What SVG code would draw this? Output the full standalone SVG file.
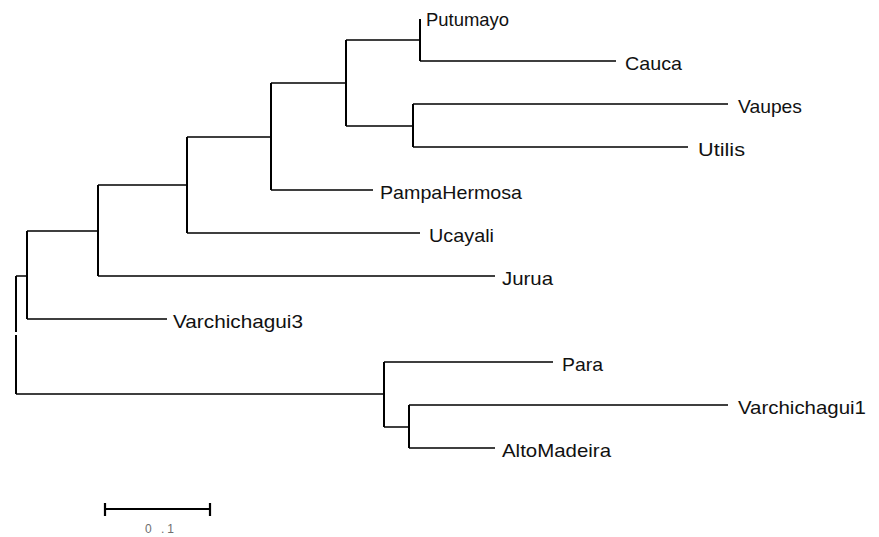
<svg xmlns="http://www.w3.org/2000/svg" width="879" height="537" viewBox="0 0 879 537">
<style>
.bg{fill:#ffffff}
.h{fill:none;stroke:#000;stroke-width:1.5;stroke-linecap:butt}
.v{fill:none;stroke:#000;stroke-width:2;stroke-linecap:butt}
.lbl{font-family:"Liberation Sans",Arial,sans-serif;font-size:19px;fill:#111}
.sb{fill:none;stroke:#000;stroke-width:2.2}
.sbt{font-family:"Liberation Sans",Arial,sans-serif;font-size:12px;fill:#6e6e6e}
</style>
<rect class="bg" x="0" y="0" width="879" height="537"/>
<g id="connectors">
  <path class="v" d="M16,276 V332 M16,335 V394 M27,231 V319 M98,185 V276 M187,137 V233 M271,83 V190 M346,40 V126 M420,19 V61 M413,104 V147 M384,362 V427 M409,405 V448"/>
  <path class="h" d="M16,276 H27 M27,231 H98 M98,185 H187 M187,137 H271 M271,83 H346 M346,40 H420 M346,126 H413 M16,394 H384 M384,427 H409
    M420,61 H616 M413,104 H728 M413,147 H688 M271,190 H373 M187,233 H420 M98,276 H495 M27,319 H167 M384,362 H553 M409,405 H728 M409,448 H495"/>
</g>
<g id="Putumayo"><text class="lbl" x="426" y="26" textLength="83" lengthAdjust="spacingAndGlyphs">Putumayo</text></g>
<g id="Cauca"><text class="lbl" x="625" y="70" textLength="57" lengthAdjust="spacingAndGlyphs">Cauca</text></g>
<g id="Vaupes"><text class="lbl" x="738" y="113" textLength="64" lengthAdjust="spacingAndGlyphs">Vaupes</text></g>
<g id="Utilis"><text class="lbl" x="698" y="156" textLength="47" lengthAdjust="spacingAndGlyphs">Utilis</text></g>
<g id="PampaHermosa"><text class="lbl" x="380" y="199" textLength="142" lengthAdjust="spacingAndGlyphs">PampaHermosa</text></g>
<g id="Ucayali"><text class="lbl" x="429" y="242" textLength="65" lengthAdjust="spacingAndGlyphs">Ucayali</text></g>
<g id="Jurua"><text class="lbl" x="502" y="285" textLength="51" lengthAdjust="spacingAndGlyphs">Jurua</text></g>
<g id="Varchichagui3"><text class="lbl" x="173" y="328" textLength="130" lengthAdjust="spacingAndGlyphs">Varchichagui3</text></g>
<g id="Para"><text class="lbl" x="562" y="371" textLength="41" lengthAdjust="spacingAndGlyphs">Para</text></g>
<g id="Varchichagui1"><text class="lbl" x="738" y="414" textLength="128" lengthAdjust="spacingAndGlyphs">Varchichagui1</text></g>
<g id="AltoMadeira"><text class="lbl" x="502" y="457" textLength="109" lengthAdjust="spacingAndGlyphs">AltoMadeira</text></g>
<g id="scalebar">
  <path class="sb" d="M105,509 H210 M105,503 V516 M210,503 V516"/>
  <text class="sbt" x="145" y="533" textLength="29" lengthAdjust="spacing">0 .1</text>
</g>
</svg>
